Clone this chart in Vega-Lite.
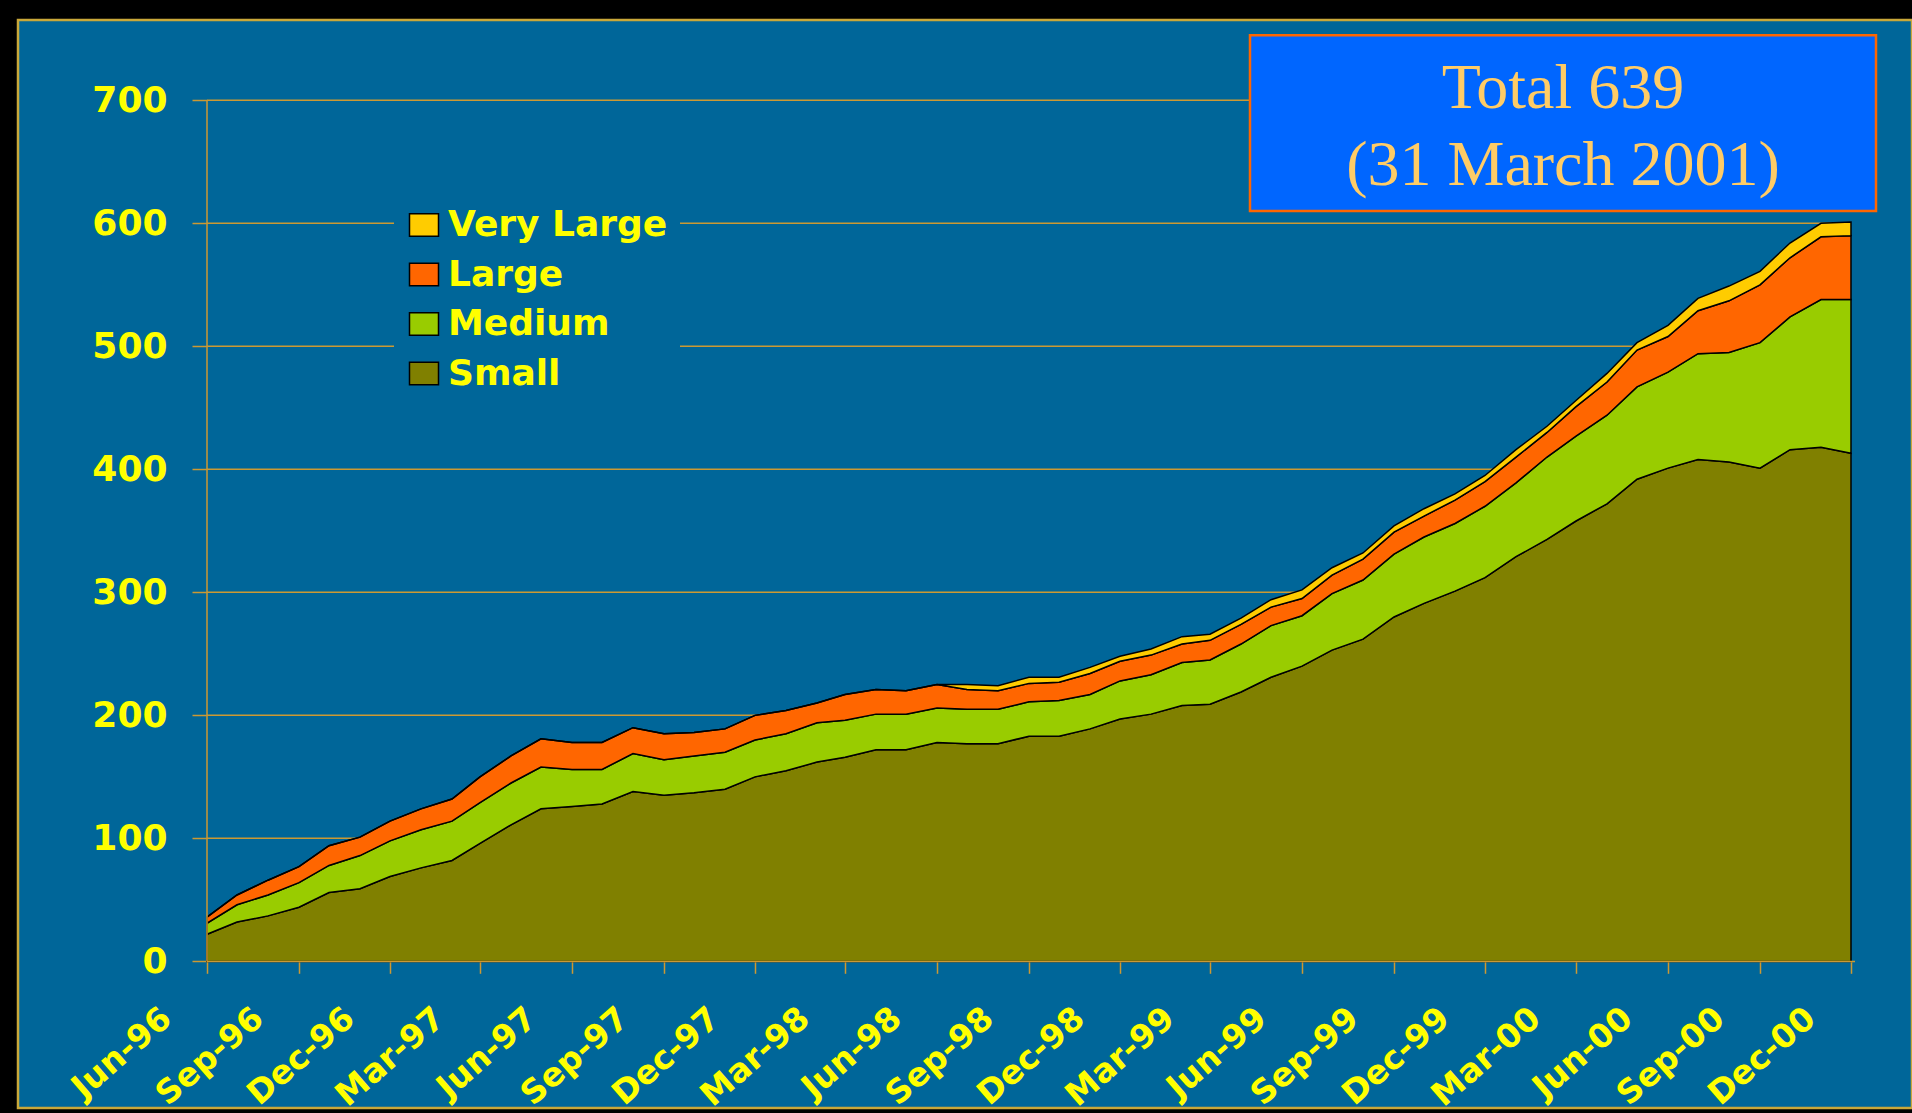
{
  "$schema": "https://vega.github.io/schema/vega-lite/v6.json",
  "width": 1894,
  "height": 1088,
  "autosize": {"type": "none"},
  "padding": {"left": 18, "top": 20, "right": 0, "bottom": 5},
  "background": "#000000",
  "config": {
    "view": {"fill": "#006699", "stroke": "#C9A83A", "strokeWidth": 2.5}
  },
  "layer": [
    {
      "data": {"values": [{"level": 100}, {"level": 200}, {"level": 300}, {"level": 400}, {"level": 500}, {"level": 600}, {"level": 700}]},
      "mark": {"type": "rule", "color": "#CC9933", "strokeWidth": 1.5},
      "encoding": {
        "x": {"datum": {"year": 1996, "month": 6, "date": 1, "utc": true}, "type": "temporal", "title": null,
              "scale": {"type": "utc", "nice": false, "domain": [{"year": 1995, "month": 11, "date": 25, "utc": true}, {"year": 2001, "month": 1, "date": 31, "utc": true}]}},
        "x2": {"datum": {"year": 2000, "month": 12, "date": 1, "utc": true}},
        "y": {"field": "level", "type": "quantitative", "title": null, "scale": {"domain": [-119.2, 765.3], "nice": false, "zero": false}}
      }
    },
    {
      "data": {"values": [
        {"month": "1996-06-01", "size": "Small", "count": 22}, {"month": "1996-06-01", "size": "Medium", "count": 9}, {"month": "1996-06-01", "size": "Large", "count": 5}, {"month": "1996-06-01", "size": "Very Large", "count": 0},
        {"month": "1996-07-01", "size": "Small", "count": 32}, {"month": "1996-07-01", "size": "Medium", "count": 14}, {"month": "1996-07-01", "size": "Large", "count": 8}, {"month": "1996-07-01", "size": "Very Large", "count": 0},
        {"month": "1996-08-01", "size": "Small", "count": 37}, {"month": "1996-08-01", "size": "Medium", "count": 17}, {"month": "1996-08-01", "size": "Large", "count": 12}, {"month": "1996-08-01", "size": "Very Large", "count": 0},
        {"month": "1996-09-01", "size": "Small", "count": 44}, {"month": "1996-09-01", "size": "Medium", "count": 20}, {"month": "1996-09-01", "size": "Large", "count": 13}, {"month": "1996-09-01", "size": "Very Large", "count": 0},
        {"month": "1996-10-01", "size": "Small", "count": 56}, {"month": "1996-10-01", "size": "Medium", "count": 22}, {"month": "1996-10-01", "size": "Large", "count": 16}, {"month": "1996-10-01", "size": "Very Large", "count": 0},
        {"month": "1996-11-01", "size": "Small", "count": 59}, {"month": "1996-11-01", "size": "Medium", "count": 27}, {"month": "1996-11-01", "size": "Large", "count": 15}, {"month": "1996-11-01", "size": "Very Large", "count": 0},
        {"month": "1996-12-01", "size": "Small", "count": 69}, {"month": "1996-12-01", "size": "Medium", "count": 29}, {"month": "1996-12-01", "size": "Large", "count": 16}, {"month": "1996-12-01", "size": "Very Large", "count": 0},
        {"month": "1997-01-01", "size": "Small", "count": 76}, {"month": "1997-01-01", "size": "Medium", "count": 31}, {"month": "1997-01-01", "size": "Large", "count": 17}, {"month": "1997-01-01", "size": "Very Large", "count": 0},
        {"month": "1997-02-01", "size": "Small", "count": 82}, {"month": "1997-02-01", "size": "Medium", "count": 32}, {"month": "1997-02-01", "size": "Large", "count": 18}, {"month": "1997-02-01", "size": "Very Large", "count": 0},
        {"month": "1997-03-01", "size": "Small", "count": 96}, {"month": "1997-03-01", "size": "Medium", "count": 33}, {"month": "1997-03-01", "size": "Large", "count": 21}, {"month": "1997-03-01", "size": "Very Large", "count": 0},
        {"month": "1997-04-01", "size": "Small", "count": 111}, {"month": "1997-04-01", "size": "Medium", "count": 34}, {"month": "1997-04-01", "size": "Large", "count": 22}, {"month": "1997-04-01", "size": "Very Large", "count": 0},
        {"month": "1997-05-01", "size": "Small", "count": 124}, {"month": "1997-05-01", "size": "Medium", "count": 34}, {"month": "1997-05-01", "size": "Large", "count": 23}, {"month": "1997-05-01", "size": "Very Large", "count": 0},
        {"month": "1997-06-01", "size": "Small", "count": 126}, {"month": "1997-06-01", "size": "Medium", "count": 30}, {"month": "1997-06-01", "size": "Large", "count": 22}, {"month": "1997-06-01", "size": "Very Large", "count": 0},
        {"month": "1997-07-01", "size": "Small", "count": 128}, {"month": "1997-07-01", "size": "Medium", "count": 28}, {"month": "1997-07-01", "size": "Large", "count": 22}, {"month": "1997-07-01", "size": "Very Large", "count": 0},
        {"month": "1997-08-01", "size": "Small", "count": 138}, {"month": "1997-08-01", "size": "Medium", "count": 31}, {"month": "1997-08-01", "size": "Large", "count": 21}, {"month": "1997-08-01", "size": "Very Large", "count": 0},
        {"month": "1997-09-01", "size": "Small", "count": 135}, {"month": "1997-09-01", "size": "Medium", "count": 29}, {"month": "1997-09-01", "size": "Large", "count": 21}, {"month": "1997-09-01", "size": "Very Large", "count": 0},
        {"month": "1997-10-01", "size": "Small", "count": 137}, {"month": "1997-10-01", "size": "Medium", "count": 30}, {"month": "1997-10-01", "size": "Large", "count": 19}, {"month": "1997-10-01", "size": "Very Large", "count": 0},
        {"month": "1997-11-01", "size": "Small", "count": 140}, {"month": "1997-11-01", "size": "Medium", "count": 30}, {"month": "1997-11-01", "size": "Large", "count": 19}, {"month": "1997-11-01", "size": "Very Large", "count": 0},
        {"month": "1997-12-01", "size": "Small", "count": 150}, {"month": "1997-12-01", "size": "Medium", "count": 30}, {"month": "1997-12-01", "size": "Large", "count": 20}, {"month": "1997-12-01", "size": "Very Large", "count": 0},
        {"month": "1998-01-01", "size": "Small", "count": 155}, {"month": "1998-01-01", "size": "Medium", "count": 30}, {"month": "1998-01-01", "size": "Large", "count": 19}, {"month": "1998-01-01", "size": "Very Large", "count": 0},
        {"month": "1998-02-01", "size": "Small", "count": 162}, {"month": "1998-02-01", "size": "Medium", "count": 32}, {"month": "1998-02-01", "size": "Large", "count": 16}, {"month": "1998-02-01", "size": "Very Large", "count": 0},
        {"month": "1998-03-01", "size": "Small", "count": 166}, {"month": "1998-03-01", "size": "Medium", "count": 30}, {"month": "1998-03-01", "size": "Large", "count": 21}, {"month": "1998-03-01", "size": "Very Large", "count": 0},
        {"month": "1998-04-01", "size": "Small", "count": 172}, {"month": "1998-04-01", "size": "Medium", "count": 29}, {"month": "1998-04-01", "size": "Large", "count": 20}, {"month": "1998-04-01", "size": "Very Large", "count": 0},
        {"month": "1998-05-01", "size": "Small", "count": 172}, {"month": "1998-05-01", "size": "Medium", "count": 29}, {"month": "1998-05-01", "size": "Large", "count": 19}, {"month": "1998-05-01", "size": "Very Large", "count": 0},
        {"month": "1998-06-01", "size": "Small", "count": 178}, {"month": "1998-06-01", "size": "Medium", "count": 28}, {"month": "1998-06-01", "size": "Large", "count": 19}, {"month": "1998-06-01", "size": "Very Large", "count": 0},
        {"month": "1998-07-01", "size": "Small", "count": 177}, {"month": "1998-07-01", "size": "Medium", "count": 28}, {"month": "1998-07-01", "size": "Large", "count": 16}, {"month": "1998-07-01", "size": "Very Large", "count": 4},
        {"month": "1998-08-01", "size": "Small", "count": 177}, {"month": "1998-08-01", "size": "Medium", "count": 28}, {"month": "1998-08-01", "size": "Large", "count": 15}, {"month": "1998-08-01", "size": "Very Large", "count": 4},
        {"month": "1998-09-01", "size": "Small", "count": 183}, {"month": "1998-09-01", "size": "Medium", "count": 28}, {"month": "1998-09-01", "size": "Large", "count": 15}, {"month": "1998-09-01", "size": "Very Large", "count": 5},
        {"month": "1998-10-01", "size": "Small", "count": 183}, {"month": "1998-10-01", "size": "Medium", "count": 29}, {"month": "1998-10-01", "size": "Large", "count": 15}, {"month": "1998-10-01", "size": "Very Large", "count": 4},
        {"month": "1998-11-01", "size": "Small", "count": 189}, {"month": "1998-11-01", "size": "Medium", "count": 28}, {"month": "1998-11-01", "size": "Large", "count": 17}, {"month": "1998-11-01", "size": "Very Large", "count": 5},
        {"month": "1998-12-01", "size": "Small", "count": 197}, {"month": "1998-12-01", "size": "Medium", "count": 31}, {"month": "1998-12-01", "size": "Large", "count": 16}, {"month": "1998-12-01", "size": "Very Large", "count": 4},
        {"month": "1999-01-01", "size": "Small", "count": 201}, {"month": "1999-01-01", "size": "Medium", "count": 32}, {"month": "1999-01-01", "size": "Large", "count": 16}, {"month": "1999-01-01", "size": "Very Large", "count": 5},
        {"month": "1999-02-01", "size": "Small", "count": 208}, {"month": "1999-02-01", "size": "Medium", "count": 35}, {"month": "1999-02-01", "size": "Large", "count": 15}, {"month": "1999-02-01", "size": "Very Large", "count": 6},
        {"month": "1999-03-01", "size": "Small", "count": 209}, {"month": "1999-03-01", "size": "Medium", "count": 36}, {"month": "1999-03-01", "size": "Large", "count": 16}, {"month": "1999-03-01", "size": "Very Large", "count": 5},
        {"month": "1999-04-01", "size": "Small", "count": 219}, {"month": "1999-04-01", "size": "Medium", "count": 39}, {"month": "1999-04-01", "size": "Large", "count": 16}, {"month": "1999-04-01", "size": "Very Large", "count": 5},
        {"month": "1999-05-01", "size": "Small", "count": 231}, {"month": "1999-05-01", "size": "Medium", "count": 42}, {"month": "1999-05-01", "size": "Large", "count": 15}, {"month": "1999-05-01", "size": "Very Large", "count": 6},
        {"month": "1999-06-01", "size": "Small", "count": 240}, {"month": "1999-06-01", "size": "Medium", "count": 41}, {"month": "1999-06-01", "size": "Large", "count": 14}, {"month": "1999-06-01", "size": "Very Large", "count": 7},
        {"month": "1999-07-01", "size": "Small", "count": 253}, {"month": "1999-07-01", "size": "Medium", "count": 46}, {"month": "1999-07-01", "size": "Large", "count": 15}, {"month": "1999-07-01", "size": "Very Large", "count": 6},
        {"month": "1999-08-01", "size": "Small", "count": 262}, {"month": "1999-08-01", "size": "Medium", "count": 48}, {"month": "1999-08-01", "size": "Large", "count": 17}, {"month": "1999-08-01", "size": "Very Large", "count": 5},
        {"month": "1999-09-01", "size": "Small", "count": 280}, {"month": "1999-09-01", "size": "Medium", "count": 51}, {"month": "1999-09-01", "size": "Large", "count": 18}, {"month": "1999-09-01", "size": "Very Large", "count": 5},
        {"month": "1999-10-01", "size": "Small", "count": 291}, {"month": "1999-10-01", "size": "Medium", "count": 54}, {"month": "1999-10-01", "size": "Large", "count": 17}, {"month": "1999-10-01", "size": "Very Large", "count": 6},
        {"month": "1999-11-01", "size": "Small", "count": 301}, {"month": "1999-11-01", "size": "Medium", "count": 55}, {"month": "1999-11-01", "size": "Large", "count": 19}, {"month": "1999-11-01", "size": "Very Large", "count": 5},
        {"month": "1999-12-01", "size": "Small", "count": 312}, {"month": "1999-12-01", "size": "Medium", "count": 58}, {"month": "1999-12-01", "size": "Large", "count": 20}, {"month": "1999-12-01", "size": "Very Large", "count": 5},
        {"month": "2000-01-01", "size": "Small", "count": 329}, {"month": "2000-01-01", "size": "Medium", "count": 60}, {"month": "2000-01-01", "size": "Large", "count": 21}, {"month": "2000-01-01", "size": "Very Large", "count": 6},
        {"month": "2000-02-01", "size": "Small", "count": 343}, {"month": "2000-02-01", "size": "Medium", "count": 67}, {"month": "2000-02-01", "size": "Large", "count": 20}, {"month": "2000-02-01", "size": "Very Large", "count": 5},
        {"month": "2000-03-01", "size": "Small", "count": 358}, {"month": "2000-03-01", "size": "Medium", "count": 69}, {"month": "2000-03-01", "size": "Large", "count": 24}, {"month": "2000-03-01", "size": "Very Large", "count": 5},
        {"month": "2000-04-01", "size": "Small", "count": 372}, {"month": "2000-04-01", "size": "Medium", "count": 72}, {"month": "2000-04-01", "size": "Large", "count": 27}, {"month": "2000-04-01", "size": "Very Large", "count": 7},
        {"month": "2000-05-01", "size": "Small", "count": 392}, {"month": "2000-05-01", "size": "Medium", "count": 75}, {"month": "2000-05-01", "size": "Large", "count": 30}, {"month": "2000-05-01", "size": "Very Large", "count": 6},
        {"month": "2000-06-01", "size": "Small", "count": 401}, {"month": "2000-06-01", "size": "Medium", "count": 78}, {"month": "2000-06-01", "size": "Large", "count": 29}, {"month": "2000-06-01", "size": "Very Large", "count": 9},
        {"month": "2000-07-01", "size": "Small", "count": 408}, {"month": "2000-07-01", "size": "Medium", "count": 86}, {"month": "2000-07-01", "size": "Large", "count": 35}, {"month": "2000-07-01", "size": "Very Large", "count": 10},
        {"month": "2000-08-01", "size": "Small", "count": 406}, {"month": "2000-08-01", "size": "Medium", "count": 89}, {"month": "2000-08-01", "size": "Large", "count": 42}, {"month": "2000-08-01", "size": "Very Large", "count": 12},
        {"month": "2000-09-01", "size": "Small", "count": 401}, {"month": "2000-09-01", "size": "Medium", "count": 102}, {"month": "2000-09-01", "size": "Large", "count": 47}, {"month": "2000-09-01", "size": "Very Large", "count": 11},
        {"month": "2000-10-01", "size": "Small", "count": 416}, {"month": "2000-10-01", "size": "Medium", "count": 108}, {"month": "2000-10-01", "size": "Large", "count": 48}, {"month": "2000-10-01", "size": "Very Large", "count": 12},
        {"month": "2000-11-01", "size": "Small", "count": 418}, {"month": "2000-11-01", "size": "Medium", "count": 120}, {"month": "2000-11-01", "size": "Large", "count": 51}, {"month": "2000-11-01", "size": "Very Large", "count": 11},
        {"month": "2000-12-01", "size": "Small", "count": 413}, {"month": "2000-12-01", "size": "Medium", "count": 125}, {"month": "2000-12-01", "size": "Large", "count": 52}, {"month": "2000-12-01", "size": "Very Large", "count": 11}
      ]},
      "transform": [{"calculate": "indexof(['Small','Medium','Large','Very Large'], datum.size)", "as": "stackOrder"}],
      "mark": {"type": "area", "stroke": "#000000", "strokeWidth": 1.5, "opacity": 1, "interpolate": "linear"},
      "encoding": {
        "x": {"field": "month", "type": "temporal",
              "scale": {"type": "utc", "nice": false, "domain": [{"year": 1995, "month": 11, "date": 25, "utc": true}, {"year": 2001, "month": 1, "date": 31, "utc": true}]},
              "axis": {"title": null, "orient": "bottom", "offset": -146.7, "domain": false, "grid": false,
                       "values": [
                         {"year": 1996, "month": 6, "date": 1, "utc": true}, {"year": 1996, "month": 9, "date": 1, "utc": true}, {"year": 1996, "month": 12, "date": 1, "utc": true},
                         {"year": 1997, "month": 3, "date": 1, "utc": true}, {"year": 1997, "month": 6, "date": 1, "utc": true}, {"year": 1997, "month": 9, "date": 1, "utc": true}, {"year": 1997, "month": 12, "date": 1, "utc": true},
                         {"year": 1998, "month": 3, "date": 1, "utc": true}, {"year": 1998, "month": 6, "date": 1, "utc": true}, {"year": 1998, "month": 9, "date": 1, "utc": true}, {"year": 1998, "month": 12, "date": 1, "utc": true},
                         {"year": 1999, "month": 3, "date": 1, "utc": true}, {"year": 1999, "month": 6, "date": 1, "utc": true}, {"year": 1999, "month": 9, "date": 1, "utc": true}, {"year": 1999, "month": 12, "date": 1, "utc": true},
                         {"year": 2000, "month": 3, "date": 1, "utc": true}, {"year": 2000, "month": 6, "date": 1, "utc": true}, {"year": 2000, "month": 9, "date": 1, "utc": true}, {"year": 2000, "month": 12, "date": 1, "utc": true}
                       ],
                       "format": "%b-%y", "labelAngle": -41, "labelAlign": "right", "labelBaseline": "alphabetic",
                       "labelOffset": -34, "labelPadding": 48, "tickSize": 12, "tickColor": "#CC9933", "tickWidth": 1.5,
                       "labelFont": "DejaVu Sans", "labelFontWeight": "bold", "labelFontSize": 33, "labelColor": "#FFFF00",
                       "labelOverlap": false, "labelFlush": false, "labelLimit": 400}},
        "y": {"field": "count", "type": "quantitative", "stack": "zero",
              "scale": {"domain": [-119.2, 765.3], "nice": false, "zero": false},
              "axis": {"title": null, "orient": "left", "offset": -189, "domain": false, "grid": false,
                       "values": [0, 100, 200, 300, 400, 500, 600, 700],
                       "tickSize": 15, "tickColor": "#CC9933", "tickWidth": 1.5, "labelPadding": 25,
                       "labelFont": "DejaVu Sans", "labelFontWeight": "bold", "labelFontSize": 36, "labelColor": "#FFFF00",
                       "labelFlush": false, "labelOverlap": false, "labelAlign": "right", "labelBaseline": "middle"}},
        "color": {"field": "size", "type": "nominal",
                  "scale": {"domain": ["Very Large", "Large", "Medium", "Small"], "range": ["#FFCC00", "#FF6600", "#99CC00", "#808000"]},
                  "legend": {"title": null, "orient": "none", "legendX": 376, "legendY": 175, "direction": "vertical",
                             "fillColor": "#006699", "padding": 12,
                             "symbolType": "M-1,-0.77L1,-0.77L1,0.77L-1,0.77Z", "symbolSize": 841,
                             "symbolStrokeColor": "#000000", "symbolStrokeWidth": 1.5, "symbolOpacity": 1,
                             "labelFont": "DejaVu Sans", "labelFontWeight": "bold", "labelFontSize": 36, "labelColor": "#FFFF00",
                             "labelOffset": 6, "labelLimit": 400, "rowPadding": 13.5}},
        "order": {"field": "stackOrder", "type": "quantitative"}
      }
    },
    {
      "data": {"values": [{}]},
      "mark": {"type": "rule", "color": "#CC9933", "strokeWidth": 1.5},
      "encoding": {
        "x": {"datum": {"year": 1996, "month": 6, "date": 1, "utc": true}, "type": "temporal", "title": null},
        "y": {"datum": 0, "type": "quantitative", "title": null},
        "y2": {"datum": 700}
      }
    },
    {
      "data": {"values": [{}]},
      "mark": {"type": "rule", "color": "#CC9933", "strokeWidth": 1.5},
      "encoding": {
        "x": {"datum": {"year": 1996, "month": 6, "date": 1, "utc": true}, "type": "temporal", "title": null},
        "x2": {"datum": {"year": 2000, "month": 12, "date": 5, "utc": true}},
        "y": {"datum": 0, "type": "quantitative", "title": null}
      }
    },
    {
      "data": {"values": [{}]},
      "mark": {"type": "rect", "fill": "#0066FF", "stroke": "#FF6600", "strokeWidth": 2.5},
      "encoding": {
        "x": {"datum": {"year": 1999, "month": 4, "date": 10, "utc": true}, "type": "temporal", "title": null},
        "x2": {"datum": {"year": 2000, "month": 12, "date": 26, "utc": true}},
        "y": {"datum": 753, "type": "quantitative", "title": null},
        "y2": {"datum": 610}
      }
    },
    {
      "data": {"values": [{}]},
      "mark": {"type": "text", "text": "Total 639", "font": "Liberation Serif", "fontSize": 64, "color": "#FFCC66", "align": "center", "baseline": "alphabetic"},
      "encoding": {
        "x": {"datum": {"year": 2000, "month": 2, "date": 17, "utc": true}, "type": "temporal", "title": null},
        "y": {"datum": 693.5, "type": "quantitative", "title": null}
      }
    },
    {
      "data": {"values": [{}]},
      "mark": {"type": "text", "text": "(31 March 2001)", "font": "Liberation Serif", "fontSize": 64, "color": "#FFCC66", "align": "center", "baseline": "alphabetic"},
      "encoding": {
        "x": {"datum": {"year": 2000, "month": 2, "date": 17, "utc": true}, "type": "temporal", "title": null},
        "y": {"datum": 631.2, "type": "quantitative", "title": null}
      }
    }
  ]
}
